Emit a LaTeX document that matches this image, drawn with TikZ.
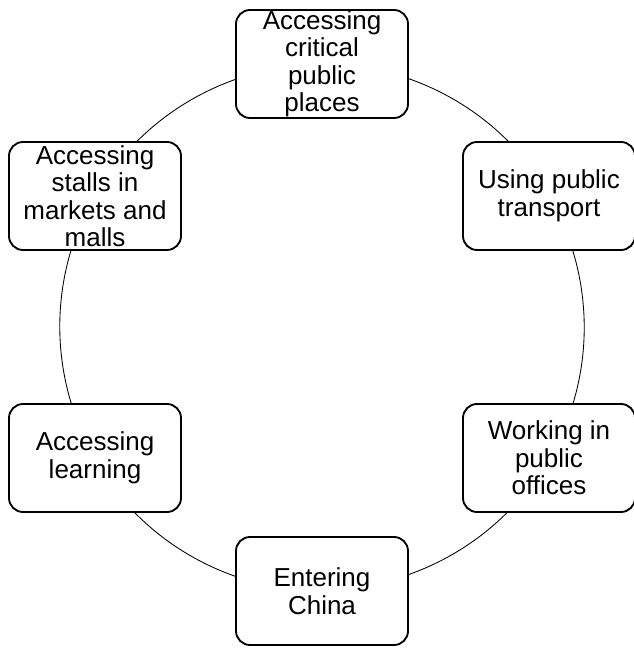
\documentclass[tikz,border=0pt]{standalone}
\usepackage{fontspec}
\setmainfont{Liberation Sans}
\usetikzlibrary{backgrounds}
\tikzset{
	stepbox/.style={draw, line width=0.65mm, rounded corners=14pt, fill=white, minimum width=172pt, minimum height=108pt, inner sep=0pt, align=center, font=\fontsize{26}{27.5}\selectfont},
	ring/.style={line width=0.3mm}
}

\begin{document}
\begin{tikzpicture}[x=1pt, y=1pt]
			%%%%% START %%%%%
			
			\useasboundingbox (0, 0) rectangle (634, 648);
			
			\node[stepbox] (places) at (322, 584) {Accessing\\critical\\public\\places};
			\node[stepbox] (transport) at (549, 452) {Using public\\transport};
			\node[stepbox] (offices) at (549, 190) {Working in\\public\\offices};
			\node[stepbox] (china) at (322, 57) {Entering\\China};
			\node[stepbox] (learning) at (95, 190) {Accessing\\learning};
			\node[stepbox] (stalls) at (95, 452) {Accessing\\stalls in\\markets and\\malls};
			
			\begin{scope}[on background layer]
			\draw[ring] (places.center) arc[start angle=90, end angle=30, radius=263pt];
			\draw[ring] (transport.center) arc[start angle=30, end angle=-30, radius=263pt];
			\draw[ring] (offices.center) arc[start angle=-30, end angle=-90, radius=263pt];
			\draw[ring] (china.center) arc[start angle=270, end angle=210, radius=263pt];
			\draw[ring] (learning.center) arc[start angle=210, end angle=150, radius=263pt];
			\draw[ring] (stalls.center) arc[start angle=150, end angle=90, radius=263pt];
			\end{scope}
			
			%%%%% END %%%%%
\end{tikzpicture}
\end{document}
